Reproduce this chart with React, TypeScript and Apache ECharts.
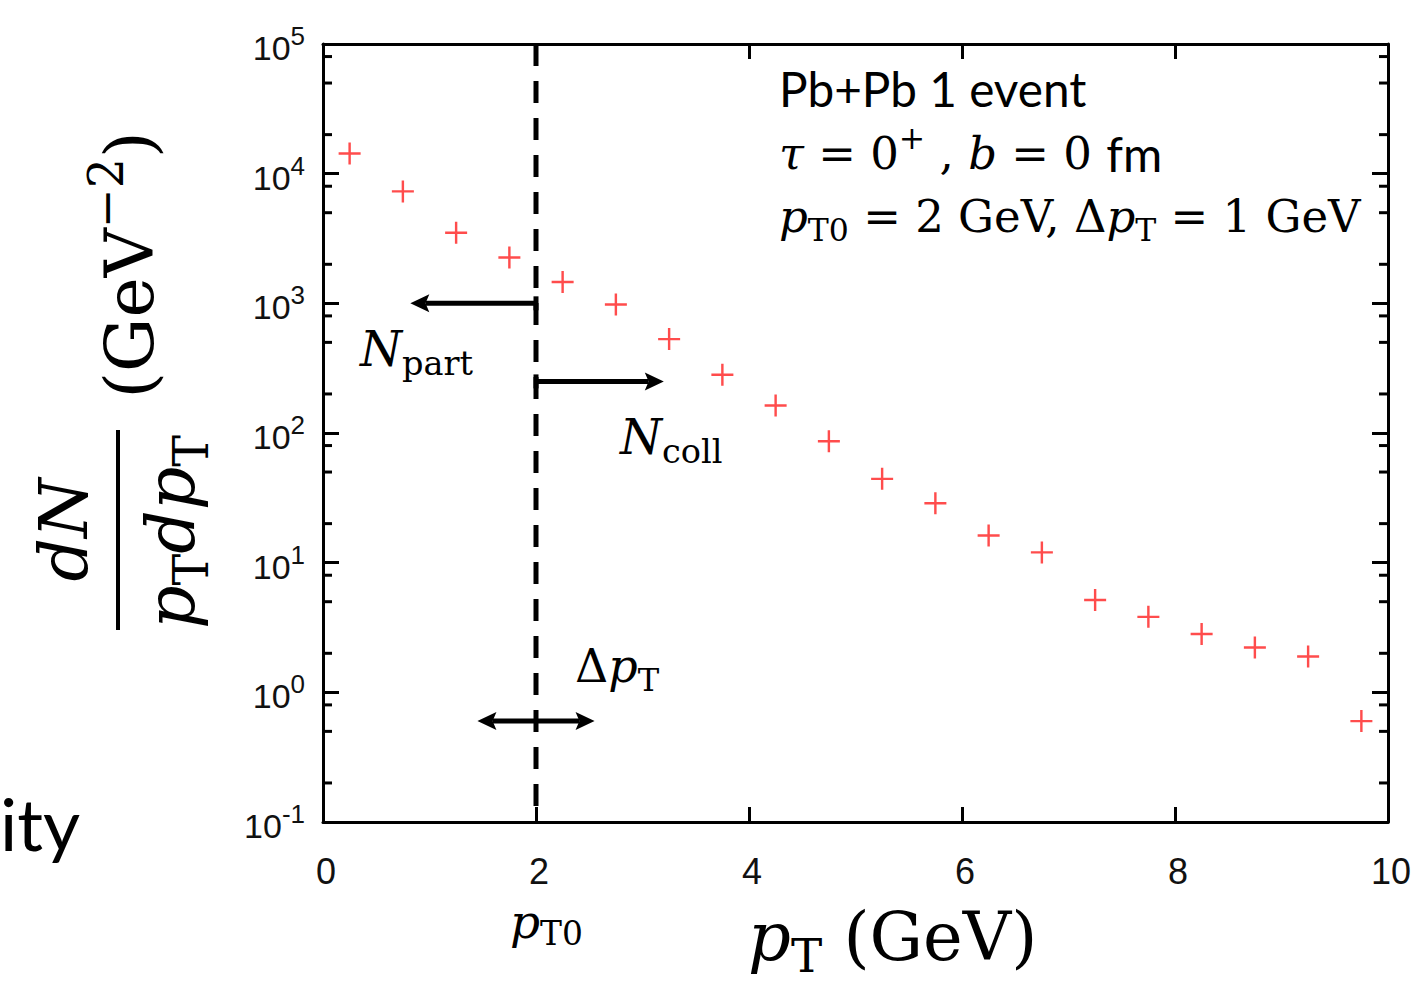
import React, { useEffect, useRef } from "react";
import * as echarts from "echarts";

// ---- data ----
const PT = [0.25, 0.75, 1.25, 1.75, 2.25, 2.75, 3.25, 3.75, 4.25, 4.75, 5.25, 5.75, 6.25, 6.75, 7.25, 7.75, 8.25, 8.75, 9.25, 9.75];
const YIELD = [14300, 7300, 3500, 2260, 1460, 980, 530, 281, 163, 86.5, 44.3, 28.7, 16.2, 12.0, 5.16, 3.82, 2.82, 2.22, 1.89, 0.6];
const X_MIN = 0;
const X_MAX = 10;
const X_STEP = 2;
const Y_MIN = 0.1;
const Y_MAX = 100000;
const Y_DECADES = [-1, 0, 1, 2, 3, 4];
const MINOR_MULT = [2, 5, 8];
// annotation lines: [x1, y1, x2, y2, kind]  kind 0 = dashed, 1 = tee+arrow, 2 = double arrow
const ANNOT = [
  [2, 100000, 2, 0.1, 0],
  [2, 1000, 0.82, 1000, 1],
  [2, 250, 3.2, 250, 1],
  [1.45, 0.6, 2.55, 0.6, 2],
];

const SERIF = "'DejaVu Serif', 'Liberation Serif', serif";
const SANS = "Lato, 'Open Sans', sans-serif";
const LSANS = "'Liberation Sans', Arial, sans-serif";

let measureCtx: CanvasRenderingContext2D | null = null;
function measure(text: string, font: string) {
  if (!measureCtx) measureCtx = document.createElement("canvas").getContext("2d");
  if (!measureCtx) return text.length * 20;
  measureCtx.font = font;
  return measureCtx.measureText(text).width;
}

type Part = [string, string];
function mathLabel(x: number, cy: number, S: number, parts: Part[], align = "left", subDrop = 0.31) {
  const items = parts.map(([t, k]) => {
    const small = k === "sb" || k === "sp";
    const size = small ? S * 0.7 : k === "sn" ? S * 1.06 : S;
    const fam = k === "sn" ? SANS : SERIF;
    const italic = k === "i";
    const dy = k === "sb" ? subDrop * S : k === "sp" ? -0.33 * S : 0;
    const font = `${italic ? "italic " : ""}${size}px ${fam}`;
    const lead = t.length - t.replace(/^ +/, "").length;
    const leadW = lead ? measure(" ".repeat(lead), font) : 0;
    const w = measure(t, font);
    return { t: t.replace(/^ +/, ""), size, fam, italic, dy, w, leadW };
  });
  const W = items.reduce((a, b) => a + b.w, 0);
  let cx = align === "center" ? x - W / 2 : x;
  const children = items.map((it) => {
    const el = {
      type: "text",
      x: cx + it.leadW,
      y: cy + it.dy,
      z: 20,
      style: {
        text: it.t,
        fontFamily: it.fam,
        fontSize: it.size,
        fontStyle: it.italic ? "italic" : "normal",
        fill: "#000",
        align: "left",
        verticalAlign: "middle",
      },
    };
    cx += it.w;
    return el;
  });
  return { type: "group", children };
}

const PLUS = "path://M8.9,0h2.2v8.9h8.9v2.2h-8.9v8.9h-2.2v-8.9h-8.9v-2.2h8.9z";

export default function App() {
  const ref = useRef<HTMLDivElement>(null);
  useEffect(() => {
    if (!ref.current) return;
    const chart = echarts.init(ref.current, undefined, { renderer: "svg" });

    const minorData: number[][] = [];
    Y_DECADES.forEach((e) => MINOR_MULT.forEach((m) => minorData.push([X_MIN, m * Math.pow(10, e)])));

    const axisLine = { show: true, onZero: false, lineStyle: { color: "#000", width: 3 } };
    const tick = (len: number) => ({ show: true, inside: true, length: len, lineStyle: { color: "#000", width: 3 } });

    const yLabel = {
      show: true,
      margin: 18,
      formatter: (v: number) => `{b|10}{s|${Math.round(Math.log10(v))}}`,
      rich: {
        b: { fontFamily: LSANS, fontSize: 34, lineHeight: 42, verticalAlign: "bottom", color: "#111" },
        s: { fontFamily: LSANS, fontSize: 26, lineHeight: 20, verticalAlign: "top", color: "#111" },
      },
    };

    const option: any = {
      animation: false,
      backgroundColor: "#fff",
      grid: { left: 323, top: 44, right: 30, bottom: 161, containLabel: false, outerBoundsMode: "none" },
      xAxis: [
        {
          type: "value", min: X_MIN, max: X_MAX, interval: X_STEP, position: "bottom",
          axisLine, axisTick: tick(15), splitLine: { show: false },
          axisLabel: { margin: 31, fontSize: 36, lineHeight: 36, color: "#111", fontFamily: LSANS, padding: [0, 0, 0, 6] },
        },
        {
          type: "value", min: X_MIN, max: X_MAX, interval: X_STEP, position: "top",
          axisLine, axisTick: tick(15), splitLine: { show: false }, axisLabel: { show: false },
        },
      ],
      yAxis: [
        {
          type: "log", logBase: 10, min: Y_MIN, max: Y_MAX, splitNumber: 6, position: "left",
          axisLine, axisTick: tick(16), splitLine: { show: false }, axisLabel: yLabel,
        },
        {
          type: "log", logBase: 10, min: Y_MIN, max: Y_MAX, splitNumber: 6, position: "right",
          axisLine, axisTick: tick(16), splitLine: { show: false }, axisLabel: { show: false },
        },
      ],
      series: [
        {
          type: "custom",
          coordinateSystem: "cartesian2d",
          silent: true,
          z: 3,
          data: minorData,
          renderItem: (_p: any, api: any) => {
            const v = api.value(1);
            const pL = api.coord([X_MIN, v]);
            const pR = api.coord([X_MAX, v]);
            const st = { stroke: "#000", lineWidth: 3 };
            return {
              type: "group",
              children: [
                { type: "line", shape: { x1: pL[0], y1: pL[1], x2: pL[0] + 9, y2: pL[1] }, style: st },
                { type: "line", shape: { x1: pR[0], y1: pR[1], x2: pR[0] - 9, y2: pR[1] }, style: st },
              ],
            };
          },
        },
        {
          type: "custom",
          coordinateSystem: "cartesian2d",
          silent: true,
          z: 4,
          clip: false,
          data: ANNOT,
          renderItem: (_p: any, api: any) => {
            const p1 = api.coord([api.value(0), api.value(1)]);
            const p2 = api.coord([api.value(2), api.value(3)]);
            const kind = api.value(4);
            if (kind === 0) {
              return {
                type: "line",
                shape: { x1: p1[0], y1: p1[1], x2: p2[0], y2: p2[1] },
                style: { stroke: "#000", lineWidth: 5, lineDash: [22, 15] },
              };
            }
            const dx = p2[0] - p1[0];
            const dy = p2[1] - p1[1];
            const len = Math.hypot(dx, dy);
            const ux = dx / len, uy = dy / len;
            const nx = -uy, ny = ux;
            const HL = 19, HW = 9;
            const head = (tip: number[], sx: number, sy: number) => ({
              type: "polygon",
              shape: {
                points: [
                  [tip[0], tip[1]],
                  [tip[0] - sx * HL + nx * HW, tip[1] - sy * HL + ny * HW],
                  [tip[0] - sx * HL * 0.8, tip[1] - sy * HL * 0.8],
                  [tip[0] - sx * HL - nx * HW, tip[1] - sy * HL - ny * HW],
                ],
              },
              style: { fill: "#000" },
            });
            const children: any[] = [];
            if (kind === 1) {
              children.push({
                type: "line",
                shape: { x1: p1[0], y1: p1[1], x2: p2[0] - ux * HL * 0.8, y2: p2[1] - uy * HL * 0.8 },
                style: { stroke: "#000", lineWidth: 5 },
              });
              children.push({
                type: "line",
                shape: { x1: p1[0] + nx * 7, y1: p1[1] + ny * 7, x2: p1[0] - nx * 7, y2: p1[1] - ny * 7 },
                style: { stroke: "#000", lineWidth: 5 },
              });
              children.push(head(p2, ux, uy));
            } else {
              children.push({
                type: "line",
                shape: { x1: p1[0] + ux * HL * 0.8, y1: p1[1] + uy * HL * 0.8, x2: p2[0] - ux * HL * 0.8, y2: p2[1] - uy * HL * 0.8 },
                style: { stroke: "#000", lineWidth: 5 },
              });
              children.push(head(p2, ux, uy));
              children.push(head(p1, -ux, -uy));
            }
            return { type: "group", children };
          },
        },
        {
          type: "scatter",
          name: "dN/pTdpT",
          z: 5,
          symbol: PLUS,
          symbolSize: 22,
          itemStyle: { color: "#ff1f1f" },
          data: PT.map((x, i) => [x, YIELD[i]]),
        },
      ],
      graphic: [
        {
          type: "group",
          x: 118,
          y: 530,
          rotation: Math.PI / 2,
          children: [
            { type: "line", shape: { x1: -100, y1: 0, x2: 100, y2: 0 }, style: { stroke: "#000", lineWidth: 4 } },
            mathLabel(0, -55, 68, [["dN", "i"]], "center"),
            mathLabel(-2, 52, 68, [["p", "i"], ["T", "sb"], ["dp", "i"], ["T", "sb"]], "center"),
            mathLabel(265, 11, 68, [["(GeV", "r"], ["−2", "sp"], [")", "r"]], "center"),
          ],
        },
        mathLabel(748, 937, 67, [["p", "i"], ["T", "sb"], [" (GeV)", "r"]], "left", 0.27),
        mathLabel(510, 921, 47, [["p", "i"], ["T0", "sb"]], "left", 0.27),
        mathLabel(360, 349, 48, [["N", "i"], ["part", "sb"]]),
        mathLabel(620, 437, 48, [["N", "i"], ["coll", "sb"]]),
        mathLabel(575, 666, 46, [["Δ", "r"], ["p", "i"], ["T", "sb"]]),
        mathLabel(779, 88, 45, [["Pb+Pb 1 event", "sn"]]),
        mathLabel(779, 153, 45, [["τ", "i"], [" = 0", "r"], ["+", "sp"], [" , ", "r"], ["b", "i"], [" = 0 ", "r"], ["fm", "sn"]]),
        mathLabel(779, 216, 45, [["p", "i"], ["T0", "sb"], [" = 2 GeV, Δ", "r"], ["p", "i"], ["T", "sb"], [" = 1 GeV", "r"]]),
        {
          type: "text",
          x: 0,
          y: 823,
          z: 20,
          style: { text: "ity", fontFamily: SANS, fontSize: 72, fill: "#000", verticalAlign: "middle", align: "left" },
        },
      ],
    };
    chart.setOption(option);
    return () => chart.dispose();
  }, []);
  return <div ref={ref} style={{ position: "absolute", left: 0, top: 0, width: 1418, height: 983 }} />;
}
